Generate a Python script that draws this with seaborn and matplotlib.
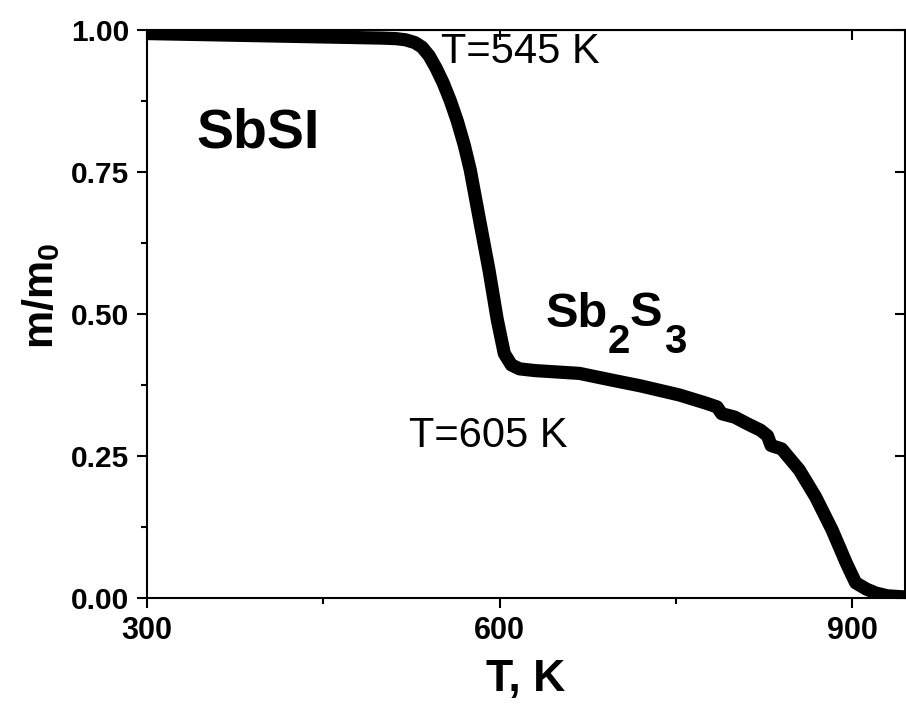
import numpy as np
import pandas as pd
import matplotlib
matplotlib.use("Agg")
import matplotlib.pyplot as plt
from matplotlib.ticker import MultipleLocator
import seaborn as sns

# Thermogravimetric curve of SbSI: relative mass vs temperature
temperature_K = [300, 350, 400, 450, 500, 512, 520, 528, 534, 540, 546, 552,
                 558, 564, 570, 575, 583, 591, 598, 604, 610, 617, 630, 668,
                 696, 720, 753, 775, 785, 789, 800, 812, 822, 828, 831, 840,
                 855, 869, 883, 895, 903, 912, 920, 930, 945]
mass_ratio = [0.994, 0.992, 0.990, 0.988, 0.986, 0.985, 0.983, 0.978, 0.970,
              0.955, 0.933, 0.907, 0.876, 0.840, 0.797, 0.754, 0.665, 0.577,
              0.490, 0.430, 0.410, 0.403, 0.400, 0.395, 0.383, 0.373, 0.357,
              0.343, 0.336, 0.324, 0.318, 0.305, 0.295, 0.285, 0.268, 0.262,
              0.225, 0.177, 0.119, 0.061, 0.026, 0.015, 0.008, 0.003, 0.001]

x_ticks = [300, 600, 900]
y_ticks = [0.00, 0.25, 0.50, 0.75, 1.00]
y_tick_labels = ["0.00", "0.25", "0.50", "0.75", "1.00"]

df = pd.DataFrame({"T": temperature_K, "m": mass_ratio})

sns.set_style("ticks")
plt.rcParams["font.family"] = ["Liberation Sans", "DejaVu Sans"]
plt.rcParams["mathtext.fontset"] = "custom"
plt.rcParams["mathtext.rm"] = "Liberation Sans"
plt.rcParams["mathtext.bf"] = "Liberation Sans:bold"
for key in ("text.color", "axes.labelcolor", "xtick.color", "ytick.color",
            "axes.edgecolor"):
    plt.rcParams[key] = "black"

fig = plt.figure(figsize=(9.06, 7.11), dpi=100)
ax = fig.add_axes([0.1623, 0.1596, 0.8366, 0.798])

sns.lineplot(data=df, x="T", y="m", ax=ax, color="black", linewidth=9.5,
             solid_capstyle="round", solid_joinstyle="round")

ax.set_xlim(300, 945)
ax.set_ylim(0, 1.0)
ax.set_xticks(x_ticks)
ax.set_yticks(y_ticks)
ax.set_yticklabels(y_tick_labels)
ax.xaxis.set_minor_locator(MultipleLocator(150))
ax.yaxis.set_minor_locator(MultipleLocator(0.125))

for s in ax.spines.values():
    s.set_linewidth(1.5)
    s.set_color("black")

ax.tick_params(axis="both", which="major", direction="out", length=7,
               width=1.5, color="black", labelcolor="black")
ax.tick_params(axis="both", which="minor", direction="out", length=4,
               width=1.5, color="black")
ax.tick_params(axis="y", which="major", pad=6)
ax.tick_params(axis="x", which="major", pad=6)

for lab in ax.get_yticklabels():
    lab.set_fontsize(21.5)
    lab.set_fontweight("bold")
for lab in ax.get_xticklabels():
    lab.set_fontsize(22)
    lab.set_fontweight("bold")

# inward ticks on the top and right edges
top = ax.secondary_xaxis("top")
top.set_xticks(x_ticks)
top.tick_params(direction="in", length=7, width=1.5, labeltop=False)
right = ax.secondary_yaxis("right")
right.set_yticks(y_ticks)
right.tick_params(direction="in", length=7, width=1.5, labelright=False)

ax.set_xlabel("T, K", fontsize=32, fontweight="bold", labelpad=10)
ax.set_ylabel(r"$\mathbf{m/m_0}$", fontsize=31)
ax.yaxis.set_label_coords(-0.112, 0.531)

ax.text(342, 0.794, "SbSI", fontsize=40, fontweight="bold", ha="left",
        va="baseline")

# Sb2S3 with large, deeply lowered subscripts
main_fs, sub_fs = 35, 29
d_main, d_sub = 0.21 * main_fs, 0.21 * sub_fs
drop = 19.0
p1 = ax.text(639, 0.4767, "Sb", fontsize=main_fs, fontweight="bold",
             ha="left", va="baseline")
p2 = ax.annotate("2", xy=(1, 0), xycoords=p1, xytext=(0, d_main - drop),
                 textcoords="offset points", fontsize=sub_fs,
                 fontweight="bold", ha="left", va="baseline")
p3 = ax.annotate("S", xy=(1, 0), xycoords=p2, xytext=(0, d_sub + drop),
                 textcoords="offset points", fontsize=main_fs,
                 fontweight="bold", ha="left", va="baseline")
ax.annotate("3", xy=(1, 0), xycoords=p3, xytext=(1, d_main - drop),
            textcoords="offset points", fontsize=sub_fs, fontweight="bold",
            ha="left", va="baseline")

ax.text(550, 0.942, "T=545 K", fontsize=30, ha="left", va="baseline")
ax.text(523, 0.266, "T=605 K", fontsize=30, ha="left", va="baseline")

fig.savefig("out.png", dpi=100)
